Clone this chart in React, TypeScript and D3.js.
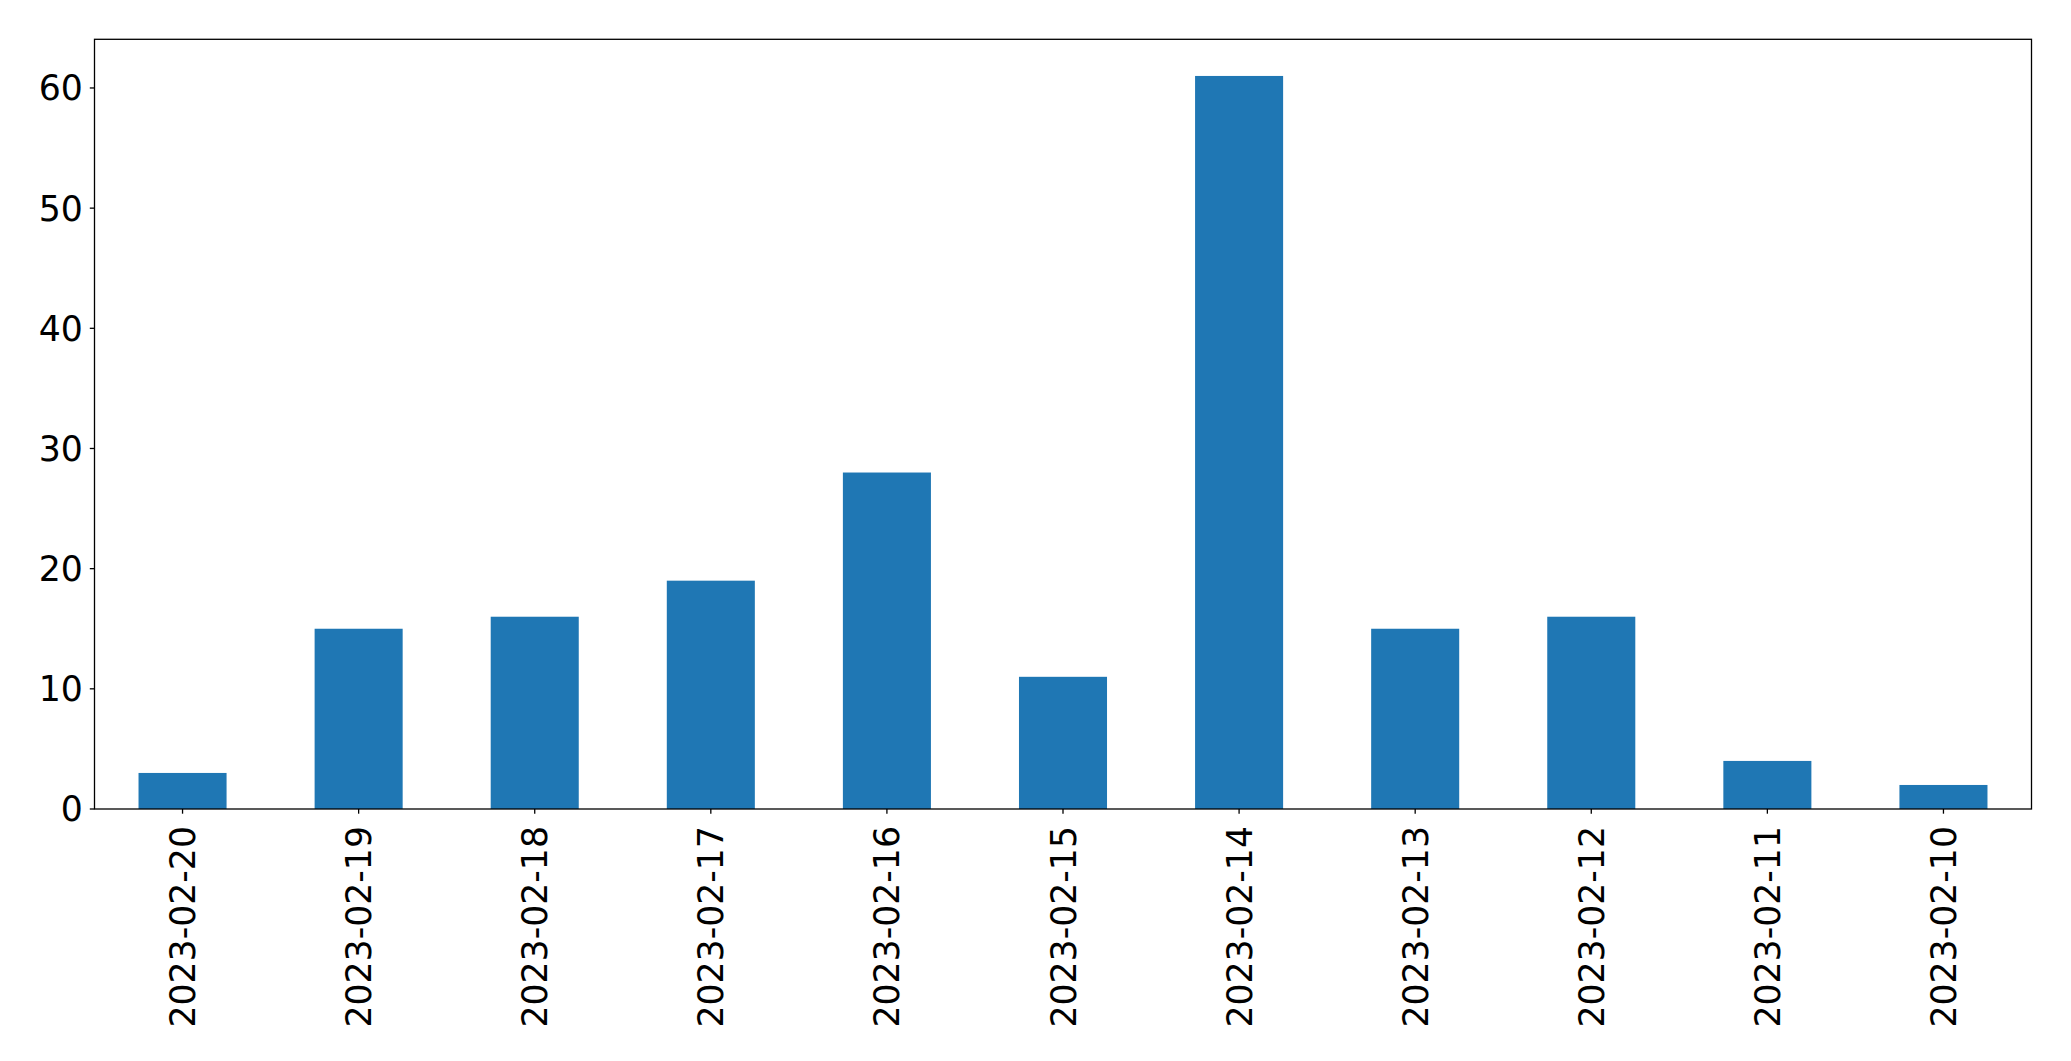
import React from "react";
import * as d3 from "d3";

const categories = ["2023-02-20","2023-02-19","2023-02-18","2023-02-17","2023-02-16","2023-02-15","2023-02-14","2023-02-13","2023-02-12","2023-02-11","2023-02-10"];
const values = [3, 15, 16, 19, 28, 11, 61, 15, 16, 4, 2];
const yTicks = [0, 10, 20, 30, 40, 50, 60];

const W = 2071, H = 1061;
const left = 94.5, right = 2031.5, top = 39.3, bottom = 809;
const FONT = "'DejaVu Sans', sans-serif";
const FS = 34.7;

export default function App() {
  const x = d3.scaleLinear().domain([-0.5, categories.length - 0.5]).range([left, right]);
  const y = d3.scaleLinear().domain([0, d3.max(values)! * 1.05]).range([bottom, top]);
  const tickLen = 4.7;
  return (
    <svg width={W} height={H} style={{ position: "absolute", left: 0, top: 0, background: "#fff" }}>
      <rect x={0} y={0} width={W} height={H} fill="#fff" />
      {values.map((v, i) => (
        <rect key={i} x={x(i - 0.25)} y={y(v)} width={x(i + 0.25) - x(i - 0.25)} height={y(0) - y(v)} fill="#1f77b4" />
      ))}
      <rect x={left} y={top} width={right - left} height={bottom - top} fill="none" stroke="#000" strokeWidth={1.3} />
      {yTicks.map((t) => (
        <g key={t}>
          <line x1={left - tickLen} x2={left} y1={y(t)} y2={y(t)} stroke="#000" strokeWidth={1.3} />
          <text x={left - tickLen - 7} y={y(t)} dy="0.36em" textAnchor="end" fontFamily={FONT} fontSize={FS} fill="#000">{t}</text>
        </g>
      ))}
      {categories.map((c, i) => (
        <g key={c}>
          <line x1={x(i)} x2={x(i)} y1={bottom} y2={bottom + tickLen} stroke="#000" strokeWidth={1.3} />
          <text transform={`translate(${x(i)},${bottom + 17}) rotate(-90)`} dy="0.36em" textAnchor="end" fontFamily={FONT} fontSize={FS} fill="#000">{c}</text>
        </g>
      ))}
    </svg>
  );
}
